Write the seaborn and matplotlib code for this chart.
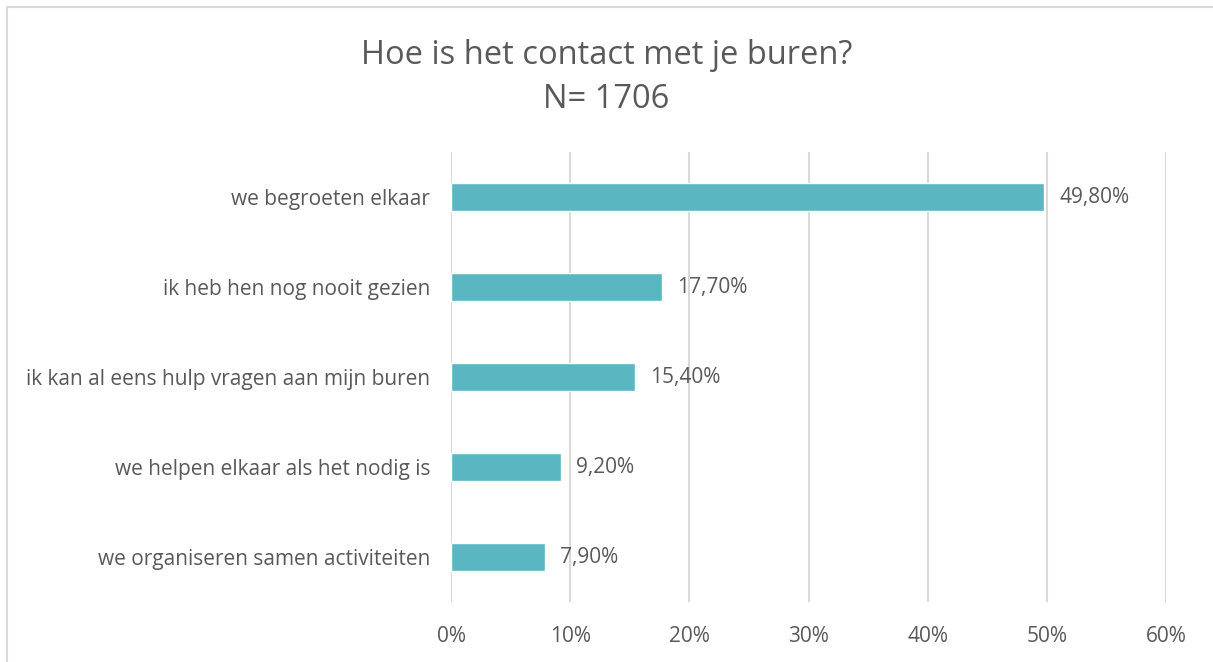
import matplotlib.pyplot as plt
import matplotlib as mpl
import seaborn as sns
import pandas as pd
from matplotlib.ticker import FuncFormatter

categories = [
    "we begroeten elkaar",
    "ik heb hen nog nooit gezien",
    "ik kan al eens hulp vragen aan mijn buren",
    "we helpen elkaar als het nodig is",
    "we organiseren samen activiteiten",
]
percentages = [49.8, 17.7, 15.4, 9.2, 7.9]
x_ticks = [0, 10, 20, 30, 40, 50, 60]

sns.set_style("white")
mpl.rcParams['font.family'] = ['Open Sans', 'DejaVu Sans']

text_gray = '#595959'
grid_gray = '#D9D9D9'
bar_color = '#5AB6C1'

df = pd.DataFrame({"categorie": categories, "pct": percentages})

fig = plt.figure(figsize=(12.13, 6.62), dpi=100)
# light border of the chart area (only top and left visible in the crop)
fig.add_artist(plt.Rectangle((7 / 1213, -0.1), 1.2, 1 - 7 / 662 + 0.1,
                             transform=fig.transFigure, fill=False,
                             edgecolor=grid_gray, linewidth=1.5))

ax = fig.add_axes([451 / 1213, 1 - 602 / 662, 715 / 1213, 450 / 662])
sns.barplot(data=df, x="pct", y="categorie", orient="h", color=bar_color,
            width=0.31, saturation=1, ax=ax)

ax.set_xlim(0, 60)
ax.set_xticks(x_ticks)
ax.xaxis.set_major_formatter(FuncFormatter(lambda v, p: f"{v:.0f}%"))
ax.grid(axis='x', color=grid_gray, linewidth=1.5)
ax.set_axisbelow(True)
for s in ax.spines.values():
    s.set_visible(False)
ax.set_xlabel("")
ax.set_ylabel("")
ax.tick_params(axis='x', colors=grid_gray, labelcolor=text_gray, labelsize=15,
               length=5, width=1.5, direction='out', pad=12)
ax.tick_params(axis='y', length=0, labelcolor=text_gray, labelsize=15, pad=15)

for i, v in enumerate(percentages):
    ax.annotate(f"{v:.2f}%".replace('.', ','), (v, i), xytext=(11, 0),
                textcoords='offset points', va='center', ha='left',
                fontsize=15, color=text_gray)

fig.text(0.5, 1 - 55 / 662, "Hoe is het contact met je buren?", ha='center',
         va='center', fontsize=23.5, color=text_gray)
fig.text(0.5, 1 - 100 / 662, "N= 1706", ha='center', va='center',
         fontsize=23.5, color=text_gray)

fig.savefig("out.png", dpi=100)
